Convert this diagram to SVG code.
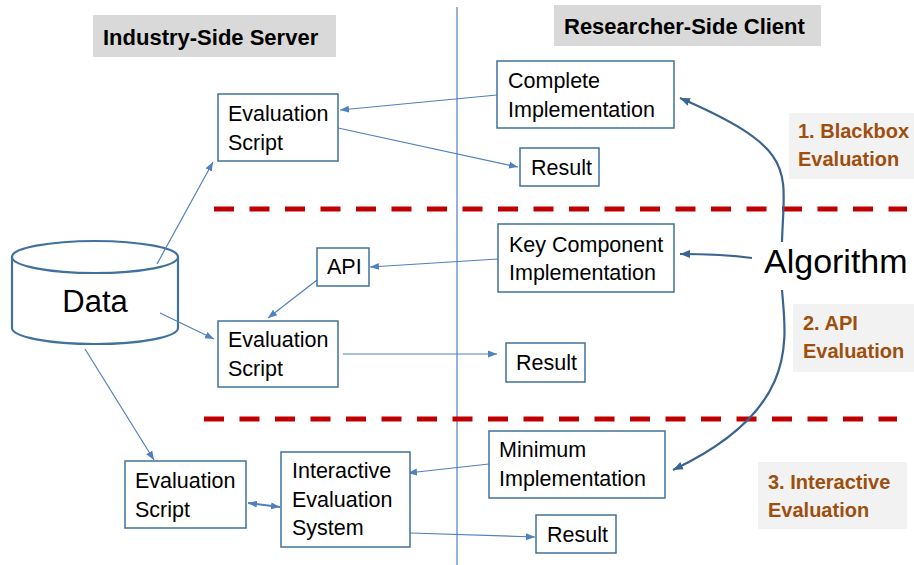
<svg xmlns="http://www.w3.org/2000/svg" width="914" height="565" viewBox="0 0 914 565">
<style>
.box{fill:#fff;stroke:#41719c;stroke-width:1.5}
.t{font-family:"Liberation Sans",Arial,sans-serif;font-size:21.5px;fill:#000}
.hdr{fill:#d9d9d9}
.lbl{fill:#f2f2f2}
.ht{font-family:"Liberation Sans",Arial,sans-serif;font-size:22px;font-weight:bold;fill:#000}
.lt{font-family:"Liberation Sans",Arial,sans-serif;font-size:20px;font-weight:bold;fill:#9e4f0e}
.c{fill:none;stroke:#4f81bd;stroke-width:1.2;marker-end:url(#a)}
.alg{fill:none;stroke:#3a6390;stroke-width:2.2;marker-end:url(#b)}
.dash{stroke:#c00000;stroke-width:5;stroke-dasharray:20 15.5}
</style>
<defs>
<marker id="a" markerUnits="userSpaceOnUse" markerWidth="10" markerHeight="10" viewBox="0 0 10 10" refX="9" refY="5" orient="auto"><path d="M0,1.5 L9,5 L0,8.5 z" fill="#4f81bd"/></marker>
<marker id="as" markerUnits="userSpaceOnUse" markerWidth="10" markerHeight="10" viewBox="0 0 10 10" refX="1" refY="5" orient="auto"><path d="M10,1.5 L1,5 L10,8.5 z" fill="#4f81bd"/></marker>
<marker id="b" markerUnits="userSpaceOnUse" markerWidth="12" markerHeight="12" viewBox="0 0 12 12" refX="10" refY="6" orient="auto"><path d="M0,2 L10,6 L0,10 z" fill="#3a6390"/></marker>
</defs>
<rect width="914" height="565" fill="#fff"/>
<g id="headers">
<rect class="hdr" x="93" y="15" width="243" height="42"/>
<text class="ht" x="103" y="45">Industry-Side Server</text>
<rect class="hdr" x="554" y="5" width="267" height="41"/>
<text class="ht" x="564" y="34">Researcher-Side Client</text>
</g>
<g id="separators">
<line x1="457" y1="7" x2="457" y2="565" stroke="#4f81bd" stroke-width="1.2"/>
<line class="dash" x1="214" y1="209" x2="907" y2="209"/>
<line class="dash" x1="204" y1="419" x2="897" y2="419"/>
</g>
<g id="labels">
<rect class="lbl" x="789" y="113" width="125" height="66"/>
<text class="lt" x="798" y="138">1. Blackbox</text>
<text class="lt" x="798" y="166">Evaluation</text>
<rect class="lbl" x="793" y="304" width="121" height="68"/>
<text class="lt" x="803" y="330">2. API</text>
<text class="lt" x="803" y="358">Evaluation</text>
<rect class="lbl" x="758" y="462" width="149" height="67"/>
<text class="lt" x="768" y="489">3. Interactive</text>
<text class="lt" x="768" y="517">Evaluation</text>
</g>
<g id="data">
<path d="M12,257 L12,328 A83,16 0 0 0 178,328 L178,257" fill="#fff" stroke="#41719c" stroke-width="2.2"/>
<ellipse cx="95" cy="257" rx="83" ry="16" fill="#fff" stroke="#41719c" stroke-width="2.2"/>
<text class="t" x="95" y="312" text-anchor="middle" style="font-size:31px">Data</text>
</g>
<g id="connectors">
<path class="c" d="M497,95 L340,110"/>
<path class="c" d="M338,128 L518,167"/>
<path class="c" d="M157,264 L213,162"/>
<path class="c" d="M498,259 L370,267"/>
<path class="c" d="M317,280 L268,318"/>
<path class="c" d="M160,313 L214,339"/>
<path class="c" d="M343,354 L497,354"/>
<path class="c" d="M85,349 L154,460"/>
<path class="c" d="M489,464 L408,473"/>
<path class="c" d="M410,533 L535,537"/>
<path d="M248,503 L280,507" fill="none" stroke="#4f81bd" stroke-width="2.2" marker-start="url(#as)" marker-end="url(#a)"/>
<path class="alg" d="M782,242 C784,170 800,150 680,98"/>
<path class="alg" d="M782,290 C786,340 800,410 673,470"/>
<path class="alg" d="M752,258 C730,255 700,254 680,254"/>
</g>
<g id="algorithm">
<text class="t" x="764" y="273" style="font-size:34px">Algorithm</text>
</g>
<g id="es1"><rect class="box" x="218" y="94" width="120" height="67"/><text class="t" x="228" y="121">Evaluation</text><text class="t" x="228" y="150">Script</text></g>
<g id="complete"><rect class="box" x="497" y="61" width="177" height="67"/><text class="t" x="508" y="88">Complete</text><text class="t" x="508" y="117">Implementation</text></g>
<g id="result1"><rect class="box" x="520" y="148" width="79" height="38"/><text class="t" x="531" y="175">Result</text></g>
<g id="api"><rect class="box" x="317" y="248" width="52" height="38"/><text class="t" x="327" y="274">API</text></g>
<g id="es2"><rect class="box" x="218" y="321" width="120" height="66"/><text class="t" x="228" y="347">Evaluation</text><text class="t" x="228" y="376">Script</text></g>
<g id="keycomp"><rect class="box" x="498" y="224" width="176" height="68"/><text class="t" x="509" y="252">Key Component</text><text class="t" x="509" y="280">Implementation</text></g>
<g id="result2"><rect class="box" x="506" y="343" width="79" height="39"/><text class="t" x="516" y="370">Result</text></g>
<g id="es3"><rect class="box" x="125" y="461" width="121" height="67"/><text class="t" x="135" y="488">Evaluation</text><text class="t" x="135" y="517">Script</text></g>
<g id="ies"><rect class="box" x="281" y="452" width="129" height="95"/><text class="t" x="292" y="478">Interactive</text><text class="t" x="292" y="507">Evaluation</text><text class="t" x="292" y="535">System</text></g>
<g id="minimpl"><rect class="box" x="489" y="431" width="176" height="67"/><text class="t" x="499" y="457">Minimum</text><text class="t" x="499" y="486">Implementation</text></g>
<g id="result3"><rect class="box" x="536" y="515" width="80" height="38"/><text class="t" x="547" y="542">Result</text></g>
</svg>
